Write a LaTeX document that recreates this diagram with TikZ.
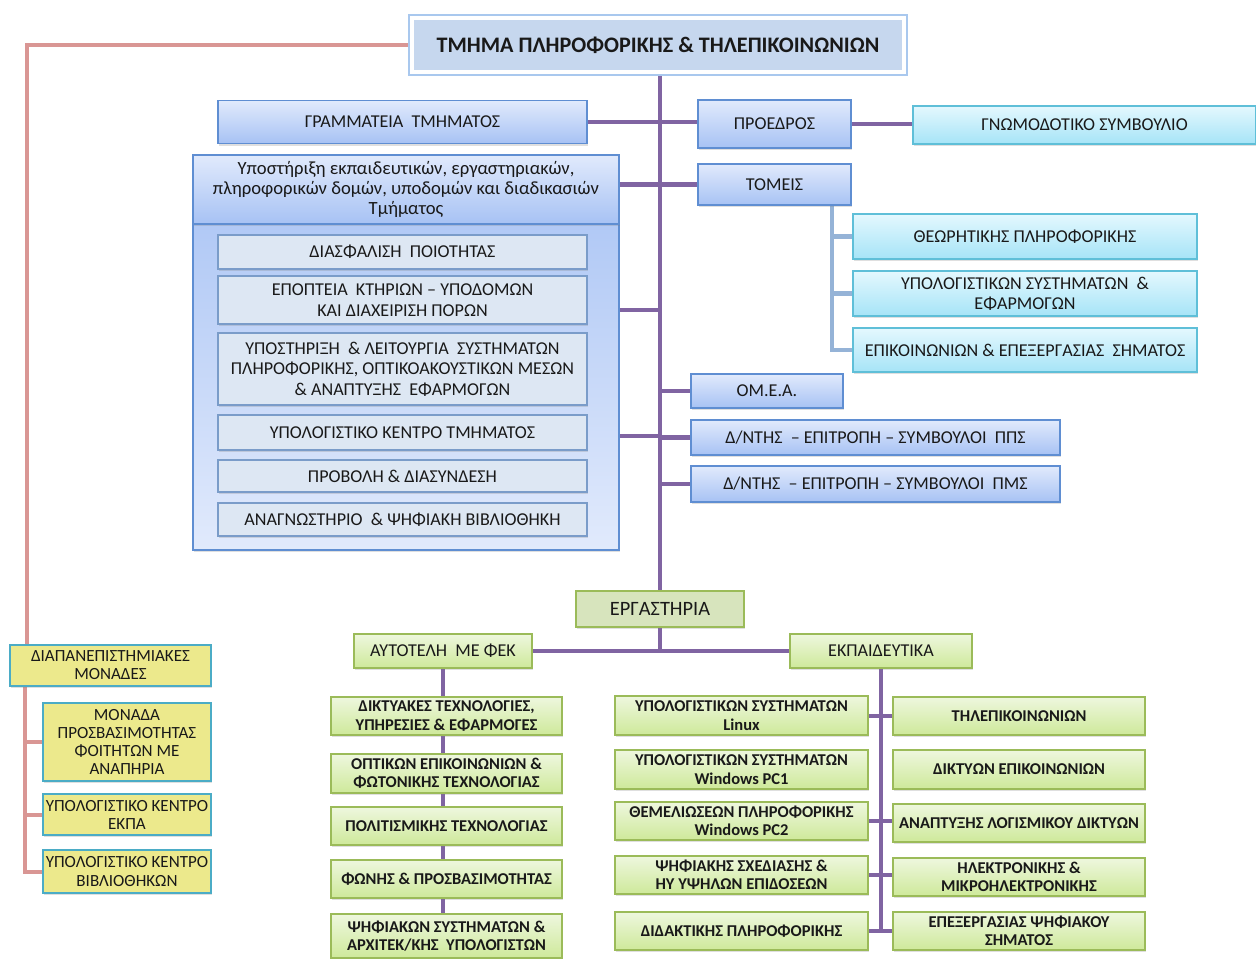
\documentclass[tikz,border=0pt]{standalone}
\usepackage{fontspec}
\setmainfont{Carlito}
\usetikzlibrary{shadows,backgrounds}

\definecolor{trunkcol}{HTML}{8064A2}
\definecolor{pinkcol}{HTML}{D99694}
\definecolor{tomcol}{HTML}{95B3D7}
\definecolor{blutop}{HTML}{E1EAFC}
\definecolor{blubot}{HTML}{A7C2F4}
\definecolor{bluedge}{HTML}{5F8ED2}
\definecolor{cyantop}{HTML}{E4F8FE}
\definecolor{cyanbot}{HTML}{A6E4F7}
\definecolor{cyanedge}{HTML}{5FBFD8}
\definecolor{greytop}{HTML}{DDE7F3}
\definecolor{greyedge}{HTML}{7A9CC9}
\definecolor{grntop}{HTML}{EEF7DE}
\definecolor{grnbot}{HTML}{CEE99A}
\definecolor{grnedge}{HTML}{9BBB59}
\definecolor{labfill}{HTML}{D7E4BD}
\definecolor{yelfill}{HTML}{ECE98C}
\definecolor{yeledge}{HTML}{4BACC6}
\definecolor{titlefill}{HTML}{C6D7EE}
\definecolor{titleglow}{HTML}{A9C8EE}

\tikzset{
	wh/.style 2 args={minimum width=#1*0.02cm, minimum height=#2*0.02cm},
	boxbase/.style={rectangle, inner sep=1pt, align=center, text=black!90,
		font=\fontsize{10.3}{11.6}\selectfont,
		drop shadow={shadow xshift=0.8pt, shadow yshift=-1.2pt, opacity=0.25}},
	blubox/.style={boxbase, draw=bluedge, line width=0.8pt, top color=blutop, bottom color=blubot},
	cyanbox/.style={boxbase, draw=cyanedge, line width=0.8pt, top color=cyantop, bottom color=cyanbot},
	greybox/.style={boxbase, draw=greyedge, line width=0.8pt, fill=greytop},
	grnbox/.style={boxbase, draw=grnedge, line width=0.8pt, top color=grntop, bottom color=grnbot},
	labbox/.style={grnbox, font=\bfseries\fontsize{9.4}{10.4}\selectfont},
	yelbox/.style={boxbase, draw=yeledge, line width=0.8pt, fill=yelfill,
		font=\fontsize{9.7}{10.3}\selectfont},
	trunk/.style={trunkcol, line width=2.3pt},
	pinkline/.style={pinkcol, line width=2.3pt},
	tomline/.style={tomcol, line width=2.3pt}
}

\begin{document}
\begin{tikzpicture}[x=0.02cm, y=-0.02cm]
		%%%%% START %%%%%
		\useasboundingbox (0,0) rectangle (1256,958);
		
		% top
		\node[boxbase, wh={492}{54}, fill=titlefill, draw=white, line width=2.5pt,
			preaction={draw=titleglow, line width=5pt},
			font=\bfseries\fontsize{12.6}{14}\selectfont] (title) at (658,45)
			{ΤΜΗΜΑ ΠΛΗΡΟΦΟΡΙΚΗΣ \& ΤΗΛΕΠΙΚΟΙΝΩΝΙΩΝ};
		
		\node[blubox, wh={369}{43}] (gram) at (402.5,122) {ΓΡΑΜΜΑΤΕΙΑ\ \ ΤΜΗΜΑΤΟΣ};
		\node[blubox, wh={153}{48}] (proed) at (774.5,124) {ΠΡΟΕΔΡΟΣ};
		\node[cyanbox, wh={343}{38}] (gnom) at (1084.5,125) {ΓΝΩΜΟΔΟΤΙΚΟ ΣΥΜΒΟΥΛΙΟ};
		
		% support block
		\node[boxbase, wh={426}{395}, draw=bluedge, line width=0.8pt,
			top color=blubot, bottom color=blutop] (cont) at (406,352.5) {};
		\node[blubox, wh={426}{69}, drop shadow={opacity=0},
			font=\fontsize{10.6}{11.6}\selectfont] (ypost) at (406,189.5)
			{Υποστήριξη εκπαιδευτικών, εργαστηριακών,\\ πληροφορικών δομών, υποδομών και διαδικασιών\\ Τμήματος};
		\node[greybox, wh={369}{34}] (diasf) at (402.5,252) {ΔΙΑΣΦΑΛΙΣΗ\ \ ΠΟΙΟΤΗΤΑΣ};
		\node[greybox, wh={369}{48}] (epopt) at (402.5,300) {ΕΠΟΠΤΕΙΑ\ \ ΚΤΗΡΙΩΝ – ΥΠΟΔΟΜΩΝ\\ ΚΑΙ ΔΙΑΧΕΙΡΙΣΗ ΠΟΡΩΝ};
		\node[greybox, wh={369}{72}] (leit) at (402.5,369)
			{ΥΠΟΣΤΗΡΙΞΗ\ \ \& ΛΕΙΤΟΥΡΓΙΑ\ \ ΣΥΣΤΗΜΑΤΩΝ\\ ΠΛΗΡΟΦΟΡΙΚΗΣ, ΟΠΤΙΚΟΑΚΟΥΣΤΙΚΩΝ ΜΕΣΩΝ\\ \& ΑΝΑΠΤΥΞΗΣ\ \ ΕΦΑΡΜΟΓΩΝ};
		\node[greybox, wh={369}{35}] (kentro) at (402.5,432.5) {ΥΠΟΛΟΓΙΣΤΙΚΟ ΚΕΝΤΡΟ ΤΜΗΜΑΤΟΣ};
		\node[greybox, wh={369}{32}] (provoli) at (402.5,476) {ΠΡΟΒΟΛΗ \& ΔΙΑΣΥΝΔΕΣΗ};
		\node[greybox, wh={369}{33}] (anagn) at (402.5,519.5) {ΑΝΑΓΝΩΣΤΗΡΙΟ\ \ \& ΨΗΦΙΑΚΗ ΒΙΒΛΙΟΘΗΚΗ};
		
		% tomeis
		\node[blubox, wh={153}{41}] (tomeis) at (774.5,184.5) {ΤΟΜΕΙΣ};
		\node[cyanbox, wh={344}{45}] (theor) at (1025,236.5) {ΘΕΩΡΗΤΙΚΗΣ ΠΛΗΡΟΦΟΡΙΚΗΣ};
		\node[cyanbox, wh={344}{45}] (ypsys) at (1025,293.5) {ΥΠΟΛΟΓΙΣΤΙΚΩΝ ΣΥΣΤΗΜΑΤΩΝ\ \ \&\\ ΕΦΑΡΜΟΓΩΝ};
		\node[cyanbox, wh={344}{44}] (epik) at (1025,350) {ΕΠΙΚΟΙΝΩΝΙΩΝ \& ΕΠΕΞΕΡΓΑΣΙΑΣ\ \ ΣΗΜΑΤΟΣ};
		
		\node[blubox, wh={152}{34}] (omea) at (767,391) {ΟΜ.Ε.Α.};
		\node[blubox, wh={369}{35}] (pps) at (875.5,437.5) {Δ/ΝΤΗΣ\ \ – ΕΠΙΤΡΟΠΗ – ΣΥΜΒΟΥΛΟΙ\ \ ΠΠΣ};
		\node[blubox, wh={369}{36}] (pms) at (875.5,484) {Δ/ΝΤΗΣ\ \ – ΕΠΙΤΡΟΠΗ – ΣΥΜΒΟΥΛΟΙ\ \ ΠΜΣ};
		
		% labs
		\node[boxbase, wh={168}{36}, fill=labfill, draw=grnedge, line width=0.8pt,
			font=\fontsize{11.6}{13}\selectfont] (ergast) at (660,609) {ΕΡΓΑΣΤΗΡΙΑ};
		\node[grnbox, wh={178}{34}] (aytot) at (443,651) {ΑΥΤΟΤΕΛΗ\ \ ΜΕ ΦΕΚ};
		\node[grnbox, wh={182}{34}] (ekpaid) at (881,651) {ΕΚΠΑΙΔΕΥΤΙΚΑ};
		
		\node[labbox, wh={231}{38}] (diktyak) at (446.5,716) {ΔΙΚΤΥΑΚΕΣ ΤΕΧΝΟΛΟΓΙΕΣ,\\ ΥΠΗΡΕΣΙΕΣ \& ΕΦΑΡΜΟΓΕΣ};
		\node[labbox, wh={231}{39}] (optik) at (446.5,773.5) {ΟΠΤΙΚΩΝ ΕΠΙΚΟΙΝΩΝΙΩΝ \&\\ ΦΩΤΟΝΙΚΗΣ ΤΕΧΝΟΛΟΓΙΑΣ};
		\node[labbox, wh={231}{38}] (polit) at (446.5,826) {ΠΟΛΙΤΙΣΜΙΚΗΣ ΤΕΧΝΟΛΟΓΙΑΣ};
		\node[labbox, wh={231}{38}] (foni) at (446.5,879) {ΦΩΝΗΣ \& ΠΡΟΣΒΑΣΙΜΟΤΗΤΑΣ};
		\node[labbox, wh={231}{44}] (psifsys) at (446.5,936) {ΨΗΦΙΑΚΩΝ ΣΥΣΤΗΜΑΤΩΝ \&\\ ΑΡΧΙΤΕΚ/ΚΗΣ\ \ ΥΠΟΛΟΓΙΣΤΩΝ};
		
		\node[labbox, wh={253}{39}] (linux) at (741.5,715.5) {ΥΠΟΛΟΓΙΣΤΙΚΩΝ ΣΥΣΤΗΜΑΤΩΝ\\ Linux};
		\node[labbox, wh={253}{39}] (pcone) at (741.5,769.5) {ΥΠΟΛΟΓΙΣΤΙΚΩΝ ΣΥΣΤΗΜΑΤΩΝ\\ Windows PC1};
		\node[labbox, wh={253}{38}] (pctwo) at (741.5,821) {ΘΕΜΕΛΙΩΣΕΩΝ ΠΛΗΡΟΦΟΡΙΚΗΣ\\ Windows PC2};
		\node[labbox, wh={253}{38}] (psifsx) at (741.5,875) {ΨΗΦΙΑΚΗΣ ΣΧΕΔΙΑΣΗΣ \&\\ ΗΥ ΥΨΗΛΩΝ ΕΠΙΔΟΣΕΩΝ};
		\node[labbox, wh={253}{38}] (didakt) at (741.5,931) {ΔΙΔΑΚΤΙΚΗΣ ΠΛΗΡΟΦΟΡΙΚΗΣ};
		
		\node[labbox, wh={252}{38}] (tilep) at (1019,716) {ΤΗΛΕΠΙΚΟΙΝΩΝΙΩΝ};
		\node[labbox, wh={252}{39}] (diktyon) at (1019,769.5) {ΔΙΚΤΥΩΝ ΕΠΙΚΟΙΝΩΝΙΩΝ};
		\node[labbox, wh={252}{38}] (anapt) at (1019,823) {ΑΝΑΠΤΥΞΗΣ ΛΟΓΙΣΜΙΚΟΥ ΔΙΚΤΥΩΝ};
		\node[labbox, wh={252}{38}] (ilektr) at (1019,877) {ΗΛΕΚΤΡΟΝΙΚΗΣ \&\\ ΜΙΚΡΟΗΛΕΚΤΡΟΝΙΚΗΣ};
		\node[labbox, wh={252}{38}] (epexerg) at (1019,931) {ΕΠΕΞΕΡΓΑΣΙΑΣ ΨΗΦΙΑΚΟΥ\\ ΣΗΜΑΤΟΣ};
		
		% inter-university units
		\node[yelbox, wh={201}{41}] (diap) at (110.5,665.5) {ΔΙΑΠΑΝΕΠΙΣΤΗΜΙΑΚΕΣ\\ ΜΟΝΑΔΕΣ};
		\node[yelbox, wh={168}{78}] (monada) at (127,742) {ΜΟΝΑΔΑ\\ ΠΡΟΣΒΑΣΙΜΟΤΗΤΑΣ\\ ΦΟΙΤΗΤΩΝ ΜΕ\\ ΑΝΑΠΗΡΙΑ};
		\node[yelbox, wh={168}{41}] (kpa) at (127,814.5) {ΥΠΟΛΟΓΙΣΤΙΚΟ ΚΕΝΤΡΟ\\ ΕΚΠΑ};
		\node[yelbox, wh={168}{43}] (vivl) at (127,871.5) {ΥΠΟΛΟΓΙΣΤΙΚΟ ΚΕΝΤΡΟ\\ ΒΙΒΛΙΟΘΗΚΩΝ};
		
		% connectors
		\coordinate (tA) at (660,310);
		\coordinate (tB) at (660,436);
		\coordinate (tom) at (832,205);
		\coordinate (pkA) at (27,646);
		\coordinate (pkB) at (25,686);
		\begin{pgfonlayer}{background}
			\draw[trunk] (ergast.north |- title.south) -- (ergast.north);
			\draw[trunk] (gram.east) -- (gram.east -| proed.west);
			\draw[trunk] (proed.east) -- (proed.east -| gnom.west);
			\draw[trunk] (tomeis.west -| ypost.east) -- (tomeis.west);
			\draw[trunk] (tA -| cont.east) -- (tA);
			\draw[trunk] (tB -| cont.east) -- (tB);
			\draw[trunk] (omea.west -| ergast.north) -- (omea.west);
			\draw[trunk] (pps.west -| ergast.north) -- (pps.west);
			\draw[trunk] (pms.west -| ergast.north) -- (pms.west);
			
			\draw[tomline] (tom) |- (epik.west);
			\draw[tomline] (tom |- theor.west) -- (theor.west);
			\draw[tomline] (tom |- ypsys.west) -- (ypsys.west);
			
			\draw[trunk] (ergast.south) -- (ergast.south |- aytot.east);
			\draw[trunk] (aytot.east) -- (aytot.east -| ekpaid.west);
			\draw[trunk] (aytot.south) -- (aytot.south |- psifsys.north);
			\draw[trunk] (ekpaid.south) -- (ekpaid.south |- didakt.east);
			\draw[trunk] (linux.east) -- (linux.east -| tilep.west);
			\draw[trunk] (pctwo.east) -- (pctwo.east -| anapt.west);
			\draw[trunk] (psifsx.east) -- (psifsx.east -| ilektr.west);
			\draw[trunk] (didakt.east) -- (didakt.east -| epexerg.west);
			
			\draw[pinkline] (title.west) -| (pkA);
			\draw[pinkline] (pkB) |- (vivl.west);
			\draw[pinkline] (pkB |- monada.west) -- (monada.west);
			\draw[pinkline] (pkB |- kpa.west) -- (kpa.west);
		\end{pgfonlayer}
		%%%%% END %%%%%
\end{tikzpicture}
\end{document}
